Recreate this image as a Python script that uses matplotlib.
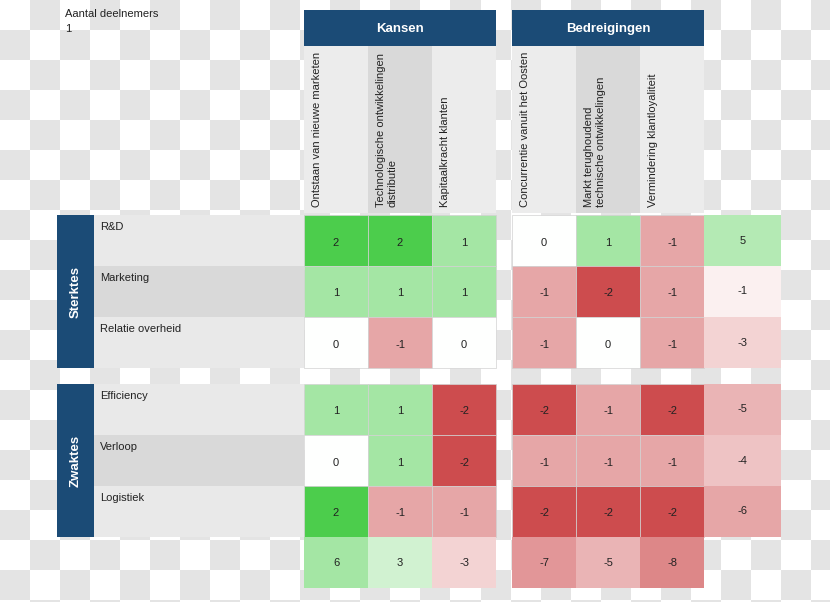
import numpy as np
import matplotlib.pyplot as plt
from matplotlib.patches import Rectangle
from matplotlib.colors import LinearSegmentedColormap, Normalize

plt.rcParams['font.family'] = ['Liberation Sans', 'DejaVu Sans']

# data
kansen = ['Ontstaan van nieuwe marketen',
          'Technologische ontwikkelingen\ndistributie',
          'Kapitaalkracht klanten']
bedreigingen = ['Concurrentie vanuit het Oosten',
                'Markt terughoudend\ntechnische ontwikkelingen',
                'Vermindering klantloyaliteit']
sterktes = ['R&D', 'Marketing', 'Relatie overheid']
zwaktes = ['Efficiency', 'Verloop', 'Logistiek']

scores = np.array([
    [2, 2, 1, 0, 1, -1],
    [1, 1, 1, -1, -2, -1],
    [0, -1, 0, -1, 0, -1],
    [1, 1, -2, -2, -1, -2],
    [0, 1, -2, -1, -1, -1],
    [2, -1, -1, -2, -2, -2],
])
row_totals = [5, -1, -3, -5, -4, -6]
col_totals = [6, 3, -3, -7, -5, -8]
deelnemers = 1

# layout (pixels)
blue = '#1b4b76'
txt = '#222222'
fs = 8
col_left = [304, 368, 432, 512, 576, 640]
col_w = 64
tot_left, tot_w = 704, 77
row_top = [215, 266, 317, 384, 435, 486]
row_h = 51
tot_top = 537

cmap = LinearSegmentedColormap.from_list('swot', ['#cd4c4e', '#ffffff', '#4ccd4c'])
cell_norm = Normalize(-2, 2)
total_norm = Normalize(-12, 12)

fig = plt.figure(figsize=(8.3, 6.02), dpi=100)
ax = fig.add_axes([0, 0, 1, 1])

# checkered background
board = np.indices((21, 28)).sum(axis=0) % 2
ax.imshow(board, cmap=LinearSegmentedColormap.from_list('bg', ['#ffffff', '#e4e4e4']),
          extent=(0, 840, 630, 0), interpolation='nearest', aspect='auto', zorder=0)

ax.text(65, 14, 'Aantal deelnemers', fontsize=fs, color=txt, va='center')
ax.text(65, 29, str(deelnemers), fontsize=fs, color=txt, va='center')

# group headers
for x0, title in [(304, 'Kansen'), (512, 'Bedreigingen')]:
    ax.add_patch(Rectangle((x0, 10), 192, 36, fc=blue, ec='none', zorder=1))
    ax.text(x0 + 96, 29, title, color='white', fontsize=9.5, fontweight='bold',
            ha='center', va='center', zorder=2)

# column headers
col_bg = ['#ececec', '#d9d9d9', '#ececec']
for i, lab in enumerate(kansen + bedreigingen):
    ax.add_patch(Rectangle((col_left[i], 46), col_w, 167, fc=col_bg[i % 3], ec='none', zorder=1))
    ax.text(col_left[i] + 8, 207, lab, rotation=90, fontsize=fs, color=txt,
            ha='left', va='bottom', multialignment='left', zorder=2)

# side labels and row labels
row_bg = ['#e9e9e9', '#d9d9d9', '#e9e9e9']
for g, (name, labels) in enumerate([('Sterktes', sterktes), ('Zwaktes', zwaktes)]):
    y0 = row_top[3 * g]
    ax.add_patch(Rectangle((57, y0), 37, 3 * row_h, fc=blue, ec='none', zorder=1))
    ax.text(75.5, y0 + 1.5 * row_h, name, rotation=90, color='white', fontsize=9.5,
            fontweight='bold', ha='center', va='center', zorder=2)
    for k, lab in enumerate(labels):
        y = row_top[3 * g + k]
        ax.add_patch(Rectangle((94, y), 210, row_h, fc=row_bg[k], ec='none', zorder=1))
        ax.text(100, y + 7, lab, fontsize=fs, color=txt, va='top', zorder=2)

# score cells
for r in range(6):
    for c in range(6):
        v = scores[r, c]
        ax.add_patch(Rectangle((col_left[c], row_top[r]), col_w, row_h,
                               fc=cmap(cell_norm(v)), ec='#d2d2d2', lw=0.5, zorder=1))
        ax.text(col_left[c] + col_w / 2, row_top[r] + row_h / 2 + 2, str(v),
                fontsize=fs, color=txt, ha='center', va='center', zorder=2)

# totals
for r, v in enumerate(row_totals):
    ax.add_patch(Rectangle((tot_left, row_top[r]), tot_w, row_h,
                           fc=cmap(total_norm(v)), ec='none', zorder=1))
    ax.text(tot_left + tot_w / 2, row_top[r] + row_h / 2, str(v),
            fontsize=fs, color=txt, ha='center', va='center', zorder=2)
for c, v in enumerate(col_totals):
    ax.add_patch(Rectangle((col_left[c], tot_top), col_w, row_h,
                           fc=cmap(total_norm(v)), ec='none', zorder=1))
    ax.text(col_left[c] + col_w / 2, tot_top + row_h / 2, str(v),
            fontsize=fs, color=txt, ha='center', va='center', zorder=2)

ax.set_xlim(0, 830)
ax.set_ylim(602, 0)
ax.axis('off')
fig.savefig('out.png', dpi=100)
